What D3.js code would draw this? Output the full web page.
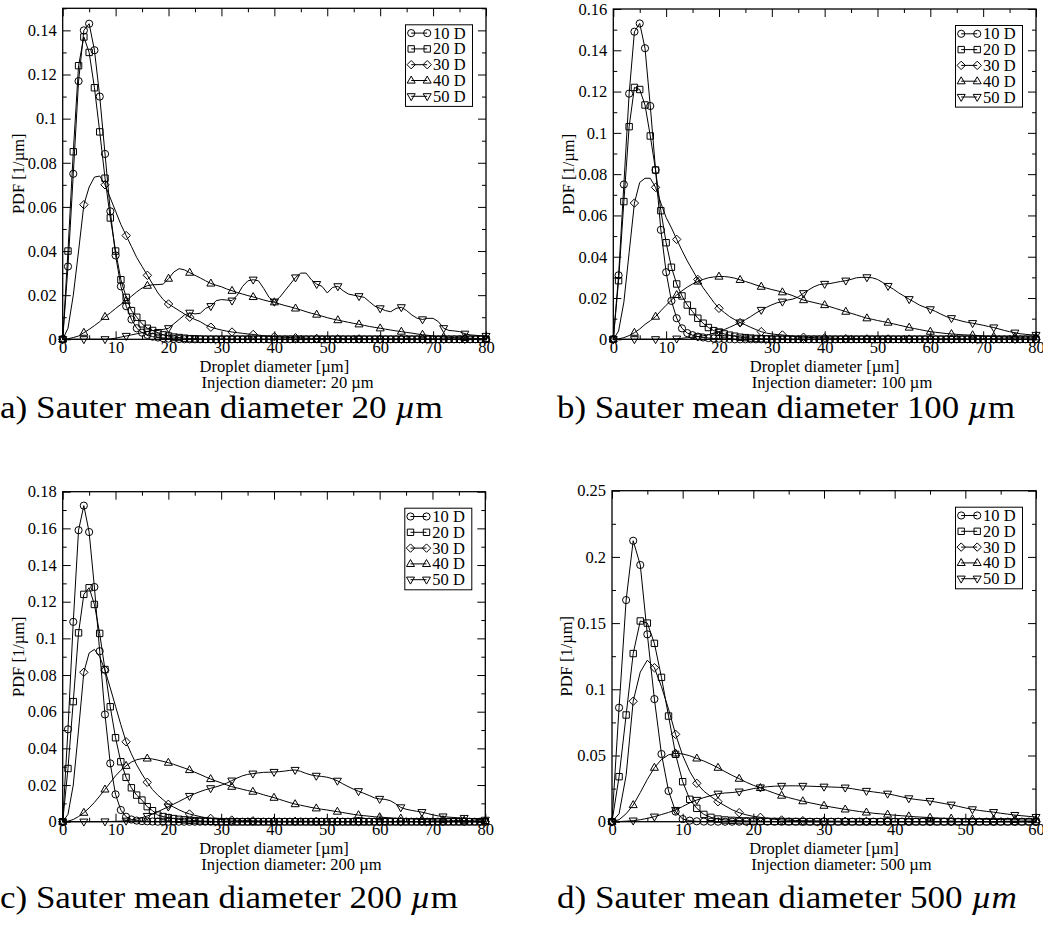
<!DOCTYPE html>
<html><head><meta charset="utf-8">
<script src="https://cdn.jsdelivr.net/npm/d3@7"></script>
<style>body{margin:0;background:#fff} svg{display:block}</style>
</head><body>
<svg id="chart" width="1043" height="925"></svg>
<script>
// ---------- shared categories ----------
const seriesNames = ["10 D", "20 D", "30 D", "40 D", "50 D"];
const symbolTypes = ["circle", "square", "diamond", "triUp", "triDown"];
const diam80 = d3.range(0, 81);   // droplet diameter grid [µm], panels a-c
const diam60 = d3.range(0, 61);   // droplet diameter grid [µm], panel d

const xTicks80 = [0, 10, 20, 30, 40, 50, 60, 70, 80];
const xLabels80 = ["0", "10", "20", "30", "40", "50", "60", "70", "80"];
const xTicks60 = [0, 10, 20, 30, 40, 50, 60];
const xLabels60 = ["0", "10", "20", "30", "40", "50", "60"];

const yTicksA = [0, 0.02, 0.04, 0.06, 0.08, 0.1, 0.12, 0.14];
const yLabelsA = ["0", "0.02", "0.04", "0.06", "0.08", "0.1", "0.12", "0.14"];
const yTicksB = [0, 0.02, 0.04, 0.06, 0.08, 0.1, 0.12, 0.14, 0.16];
const yLabelsB = ["0", "0.02", "0.04", "0.06", "0.08", "0.1", "0.12", "0.14", "0.16"];
const yTicksC = [0, 0.02, 0.04, 0.06, 0.08, 0.1, 0.12, 0.14, 0.16, 0.18];
const yLabelsC = ["0", "0.02", "0.04", "0.06", "0.08", "0.1", "0.12", "0.14", "0.16", "0.18"];
const yTicksD = [0, 0.05, 0.1, 0.15, 0.2, 0.25];
const yLabelsD = ["0", "0.05", "0.1", "0.15", "0.2", "0.25"];

// ---------- panel a : injection 20 µm ----------
const a10 = [
 0, 0.033, 0.075, 0.117, 0.140, 0.143, 0.131, 0.110, 0.084, 0.058,
 0.038, 0.024, 0.015, 0.009, 0.005, 0.003, 0.002, 0.0012, 0.0008, 0.0005,
 0.0003, 0.0002, 0.0001, 0, 0, 0, 0, 0, 0, 0,
 0, 0, 0, 0, 0, 0, 0, 0, 0, 0,
 0, 0, 0, 0, 0, 0, 0, 0, 0, 0,
 0, 0, 0, 0, 0, 0, 0, 0, 0, 0,
 0, 0, 0, 0, 0, 0, 0, 0, 0, 0,
 0, 0, 0, 0, 0, 0, 0, 0, 0, 0,
 0];
const a20 = [
 0, 0.040, 0.085, 0.124, 0.137, 0.130, 0.114, 0.094, 0.073, 0.055,
 0.040, 0.027, 0.019, 0.013, 0.010, 0.007, 0.005, 0.004, 0.003, 0.002,
 0.0015, 0.001, 0.0008, 0.0005, 0.0003, 0.0002, 0.0001, 0, 0, 0,
 0, 0, 0, 0, 0, 0, 0, 0, 0, 0,
 0, 0, 0, 0, 0, 0, 0, 0, 0, 0,
 0, 0, 0, 0, 0, 0, 0, 0, 0, 0,
 0, 0, 0, 0, 0, 0, 0, 0, 0, 0,
 0, 0, 0, 0, 0, 0, 0, 0, 0, 0,
 0];
const a30 = [
 0, 0.005, 0.020, 0.040, 0.061, 0.069, 0.0735, 0.074, 0.070, 0.064,
 0.058, 0.052, 0.047, 0.042, 0.037, 0.033, 0.029, 0.025, 0.021, 0.018,
 0.016, 0.0145, 0.013, 0.0115, 0.010, 0.009, 0.008, 0.0065, 0.0055, 0.0048,
 0.0042, 0.0037, 0.0033, 0.003, 0.0027, 0.0024, 0.0022, 0.0019, 0.0016, 0.0014,
 0.0012, 0.001, 0.0009, 0.0008, 0.0007, 0.0006, 0.0005, 0.0004, 0.0004, 0.0003,
 0.0003, 0.0002, 0.0002, 0.0002, 0.0002, 0.0002, 0.0002, 0.0002, 0.0002, 0.0002,
 0.0001, 0.0001, 0.0001, 0.0001, 0.0001, 0.0001, 0.0001, 0.0001, 0.0001, 0.0001,
 0.0001, 0.0001, 0.0001, 0.0001, 0.0001, 0.0001, 0.0001, 0.0001, 0.0001, 0.0001,
 0.0001];
const a40 = [
 0, 0.0002, 0.0008, 0.0015, 0.003, 0.0045, 0.0062, 0.008, 0.0102, 0.012,
 0.014, 0.0158, 0.0175, 0.0195, 0.0215, 0.0232, 0.0243, 0.0247, 0.0248, 0.025,
 0.0275, 0.0305, 0.032, 0.0315, 0.0302, 0.029, 0.0278, 0.0265, 0.0253, 0.0245,
 0.0238, 0.0228, 0.022, 0.0212, 0.0205, 0.0198, 0.0192, 0.0185, 0.0178, 0.0172,
 0.0168, 0.016, 0.0153, 0.0147, 0.014, 0.0133, 0.0125, 0.0118, 0.0112, 0.0105,
 0.0098, 0.0092, 0.0087, 0.0082, 0.0077, 0.0072, 0.0068, 0.0063, 0.0058, 0.0054,
 0.005, 0.0046, 0.0042, 0.0038, 0.0035, 0.0031, 0.0028, 0.0024, 0.0021, 0.0018,
 0.0015, 0.0012, 0.001, 0.0009, 0.0008, 0.0007, 0.0006, 0.0005, 0.0004, 0.0003,
 0.0002];
const a50 = [
 0, 0, 0, 0, 0, 0, 0, 0, 0, 0.0002,
 0.0005, 0.001, 0.0015, 0.002, 0.0025, 0.003, 0.0035, 0.004, 0.004, 0.0045,
 0.005, 0.007, 0.009, 0.011, 0.012, 0.0115, 0.0118, 0.014, 0.015, 0.0175,
 0.018, 0.0178, 0.0175, 0.020, 0.024, 0.0265, 0.027, 0.0265, 0.023, 0.019,
 0.017, 0.019, 0.022, 0.025, 0.028, 0.030, 0.030, 0.027, 0.025, 0.024,
 0.021, 0.0235, 0.024, 0.022, 0.0205, 0.020, 0.0195, 0.019, 0.017, 0.015,
 0.014, 0.013, 0.0125, 0.014, 0.0145, 0.013, 0.011, 0.0095, 0.009, 0.0095,
 0.0095, 0.008, 0.005, 0.004, 0.0038, 0.0035, 0.0025, 0.002, 0.0018, 0.0016,
 0.0015];

// ---------- panel b : injection 100 µm ----------
const b10 = [
 0, 0.031, 0.075, 0.119, 0.149, 0.153, 0.141, 0.113, 0.082, 0.053,
 0.0325, 0.0186, 0.0102, 0.0053, 0.003, 0.002, 0.0013, 0.0009, 0.0006, 0.0004,
 0.0003, 0.0002, 0.0001, 0, 0, 0, 0, 0, 0, 0,
 0, 0, 0, 0, 0, 0, 0, 0, 0, 0,
 0, 0, 0, 0, 0, 0, 0, 0, 0, 0,
 0, 0, 0, 0, 0, 0, 0, 0, 0, 0,
 0, 0, 0, 0, 0, 0, 0, 0, 0, 0,
 0, 0, 0, 0, 0, 0, 0, 0, 0, 0,
 0];
const b20 = [
 0, 0.0284, 0.0667, 0.103, 0.122, 0.121, 0.1135, 0.0985, 0.082, 0.0623,
 0.0468, 0.0349, 0.0268, 0.021, 0.0166, 0.0134, 0.0102, 0.0078, 0.0057, 0.0042,
 0.0034, 0.0026, 0.002, 0.0015, 0.001, 0.0008, 0.0006, 0.0004, 0.0003, 0.0002,
 0.0001, 0, 0, 0, 0, 0, 0, 0, 0, 0,
 0, 0, 0, 0, 0, 0, 0, 0, 0, 0,
 0, 0, 0, 0, 0, 0, 0, 0, 0, 0,
 0, 0, 0, 0, 0, 0, 0, 0, 0, 0,
 0, 0, 0, 0, 0, 0, 0, 0, 0, 0,
 0];
const b30 = [
 0, 0.004, 0.018, 0.042, 0.066, 0.076, 0.078, 0.078, 0.0736, 0.066,
 0.059, 0.054, 0.0484, 0.043, 0.038, 0.0335, 0.029, 0.025, 0.0215, 0.018,
 0.015, 0.013, 0.011, 0.0095, 0.0081, 0.007, 0.0058, 0.0047, 0.0037, 0.003,
 0.0026, 0.0023, 0.0021, 0.0018, 0.0015, 0.0012, 0.001, 0.0009, 0.0008, 0.0007,
 0.0007, 0.0006, 0.0005, 0.0004, 0.0003, 0.0003, 0.0003, 0.0002, 0.0002, 0.0002,
 0.0002, 0.0002, 0.0002, 0.0002, 0.0002, 0.0001, 0.0001, 0.0001, 0.0001, 0.0001,
 0.0001, 0.0001, 0.0001, 0.0001, 0.0001, 0.0001, 0.0001, 0.0001, 0.0001, 0.0001,
 0.0001, 0.0001, 0.0001, 0.0001, 0.0001, 0.0001, 0.0001, 0.0001, 0.0001, 0.0001,
 0.0001];
const b40 = [
 0, 0.0002, 0.0008, 0.0018, 0.0032, 0.005, 0.0072, 0.009, 0.011, 0.0138,
 0.0165, 0.019, 0.0215, 0.0235, 0.0253, 0.0268, 0.028, 0.029, 0.0298, 0.0302,
 0.0304, 0.0304, 0.0301, 0.0296, 0.0288, 0.028, 0.0272, 0.0263, 0.0255, 0.0248,
 0.0241, 0.0235, 0.0228, 0.022, 0.0211, 0.02, 0.019, 0.0184, 0.0178, 0.0172,
 0.0166, 0.0158, 0.015, 0.0142, 0.0134, 0.0126, 0.0118, 0.011, 0.0102, 0.0097,
 0.0091, 0.0086, 0.0081, 0.0075, 0.0069, 0.0063, 0.0057, 0.0052, 0.0047, 0.0042,
 0.0037, 0.0034, 0.0031, 0.0028, 0.0026, 0.0024, 0.0022, 0.0021, 0.002, 0.0018,
 0.0016, 0.0014, 0.0013, 0.0012, 0.0011, 0.001, 0.001, 0.001, 0.001, 0.001,
 0.001];
const b50 = [
 0, 0, 0, 0, 0, 0, 0, 0, 0, 0.0001,
 0.0001, 0.0002, 0.0003, 0.0005, 0.0008, 0.001, 0.0013, 0.0017, 0.0022, 0.003,
 0.0037, 0.0047, 0.0058, 0.007, 0.0081, 0.0095, 0.011, 0.0127, 0.0142, 0.0155,
 0.0167, 0.0177, 0.0182, 0.019, 0.0195, 0.0205, 0.0223, 0.024, 0.0255, 0.0265,
 0.0268, 0.027, 0.0275, 0.028, 0.0284, 0.029, 0.0298, 0.030, 0.030, 0.0298,
 0.029, 0.0275, 0.0258, 0.0243, 0.0225, 0.021, 0.0194, 0.018, 0.0165, 0.0155,
 0.0145, 0.0135, 0.0122, 0.011, 0.0102, 0.0095, 0.0088, 0.0082, 0.0078, 0.0073,
 0.0068, 0.0062, 0.0057, 0.005, 0.0043, 0.0037, 0.0032, 0.0027, 0.0024, 0.0022,
 0.0021];

// ---------- panel c : injection 200 µm ----------
const c10 = [
 0, 0.0504, 0.109, 0.159, 0.1724, 0.158, 0.128, 0.093, 0.0585, 0.0318,
 0.0149, 0.0064, 0.0027, 0.0012, 0.0006, 0.0003, 0.0002, 0.0001, 0, 0,
 0, 0, 0, 0, 0, 0, 0, 0, 0, 0,
 0, 0, 0, 0, 0, 0, 0, 0, 0, 0,
 0, 0, 0, 0, 0, 0, 0, 0, 0, 0,
 0, 0, 0, 0, 0, 0, 0, 0, 0, 0,
 0, 0, 0, 0, 0, 0, 0, 0, 0, 0,
 0, 0, 0, 0, 0, 0, 0, 0, 0, 0,
 0];
const c20 = [
 0, 0.029, 0.0655, 0.103, 0.124, 0.1276, 0.1185, 0.1027, 0.083, 0.0627,
 0.0458, 0.0327, 0.0242, 0.0185, 0.0145, 0.0118, 0.0082, 0.006, 0.0036, 0.0028,
 0.0022, 0.0017, 0.0013, 0.001, 0.0008, 0.0006, 0.0004, 0.0003, 0.0002, 0.0001,
 0, 0, 0, 0, 0, 0, 0, 0, 0, 0,
 0, 0, 0, 0, 0, 0, 0, 0, 0, 0,
 0, 0, 0, 0, 0, 0, 0, 0, 0, 0,
 0, 0, 0, 0, 0, 0, 0, 0, 0, 0,
 0, 0, 0, 0, 0, 0, 0, 0, 0, 0,
 0];
const c30 = [
 0, 0.004, 0.02, 0.05, 0.0815, 0.092, 0.094, 0.090, 0.0827, 0.073,
 0.063, 0.053, 0.0436, 0.037, 0.031, 0.026, 0.0215, 0.0175, 0.0145, 0.012,
 0.0095, 0.008, 0.0065, 0.0052, 0.0042, 0.0035, 0.0028, 0.0022, 0.0018, 0.0015,
 0.0012, 0.001, 0.0009, 0.0008, 0.0007, 0.0006, 0.0005, 0.0004, 0.0004, 0.0003,
 0.0003, 0.0002, 0.0002, 0.0002, 0.0002, 0.0002, 0.0002, 0.0002, 0.0002, 0.0002,
 0.0001, 0.0001, 0.0001, 0.0001, 0.0001, 0.0001, 0.0001, 0.0001, 0.0001, 0.0001,
 0.0001, 0.0001, 0.0001, 0.0001, 0.0001, 0.0001, 0.0001, 0.0001, 0.0001, 0.0001,
 0.0001, 0.0001, 0.0001, 0.0001, 0.0001, 0.0001, 0.0001, 0.0001, 0.0001, 0.0001,
 0.0001];
const c40 = [
 0, 0.0003, 0.0012, 0.0028, 0.0049, 0.0075, 0.0105, 0.014, 0.0176, 0.0213,
 0.025, 0.028, 0.0305, 0.0325, 0.0338, 0.0344, 0.0345, 0.0342, 0.0336, 0.0329,
 0.0322, 0.0313, 0.0303, 0.0293, 0.0282, 0.027, 0.0258, 0.0245, 0.0233, 0.0222,
 0.0212, 0.0201, 0.0191, 0.0184, 0.0177, 0.017, 0.0164, 0.0156, 0.0147, 0.0139,
 0.0131, 0.0122, 0.0113, 0.0104, 0.0096, 0.009, 0.0084, 0.0078, 0.0073, 0.0068,
 0.0064, 0.0059, 0.0055, 0.005, 0.0045, 0.004, 0.0036, 0.0033, 0.003, 0.0027,
 0.0025, 0.0023, 0.0021, 0.0019, 0.0018, 0.0016, 0.0015, 0.0013, 0.0012, 0.0011,
 0.001, 0.0009, 0.0009, 0.0008, 0.0007, 0.0007, 0.0006, 0.0006, 0.0005, 0.0005,
 0.0004];
const c50 = [
 0, 0, 0, 0, 0, 0, 0, 0, 0.0001, 0.0001,
 0.0002, 0.0003, 0.0005, 0.0009, 0.0015, 0.0022, 0.0031, 0.0042, 0.0055, 0.0068,
 0.0082, 0.0096, 0.011, 0.0125, 0.014, 0.0153, 0.0164, 0.0174, 0.0182, 0.019,
 0.0199, 0.021, 0.0224, 0.0238, 0.025, 0.0258, 0.0262, 0.0266, 0.0269, 0.027,
 0.0271, 0.0273, 0.0276, 0.028, 0.0282, 0.0275, 0.0264, 0.0255, 0.025, 0.0247,
 0.0243, 0.0235, 0.0223, 0.0207, 0.0192, 0.0178, 0.0166, 0.0155, 0.0143, 0.013,
 0.0124, 0.0122, 0.0115, 0.0098, 0.0078, 0.0068, 0.0062, 0.0057, 0.0052, 0.0045,
 0.0038, 0.0032, 0.0028, 0.0025, 0.0023, 0.0021, 0.002, 0.0017, 0.0014, 0.0012,
 0.001];

// ---------- panel d : injection 500 µm ----------
const d10 = [
 0, 0.0861, 0.1674, 0.2122, 0.1939, 0.1415, 0.0926, 0.0511, 0.0232, 0.0076,
 0.002, 0.0008, 0.0003, 0.0001, 0, 0, 0, 0, 0, 0,
 0, 0, 0, 0, 0, 0, 0, 0, 0, 0,
 0, 0, 0, 0, 0, 0, 0, 0, 0, 0,
 0, 0, 0, 0, 0, 0, 0, 0, 0, 0,
 0, 0, 0, 0, 0, 0, 0, 0, 0, 0,
 0];
const d20 = [
 0, 0.034, 0.0806, 0.127, 0.1516, 0.150, 0.1347, 0.109, 0.0798, 0.0509,
 0.0302, 0.0169, 0.0101, 0.0055, 0.0033, 0.002, 0.0013, 0.001, 0.0008, 0.0006,
 0.0005, 0.0004, 0.0003, 0.0002, 0.0002, 0.0001, 0.0001, 0, 0, 0,
 0, 0, 0, 0, 0, 0, 0, 0, 0, 0,
 0, 0, 0, 0, 0, 0, 0, 0, 0, 0,
 0, 0, 0, 0, 0, 0, 0, 0, 0, 0,
 0];
const d30 = [
 0, 0.006, 0.035, 0.091, 0.113, 0.122, 0.1163, 0.102, 0.085, 0.066,
 0.050, 0.038, 0.029, 0.023, 0.019, 0.0151, 0.012, 0.009, 0.0068, 0.0052,
 0.004, 0.0033, 0.0025, 0.0018, 0.0013, 0.0011, 0.0009, 0.0008, 0.0007, 0.0006,
 0.0005, 0.0004, 0.0004, 0.0003, 0.0003, 0.0003, 0.0002, 0.0002, 0.0002, 0.0002,
 0.0002, 0.0001, 0.0001, 0.0001, 0.0001, 0.0001, 0.0001, 0.0001, 0.0001, 0.0001,
 0.0001, 0.0001, 0.0001, 0.0001, 0.0001, 0.0001, 0.0001, 0.0001, 0.0001, 0.0001,
 0.0001];
const d40 = [
 0, 0.0015, 0.006, 0.0126, 0.022, 0.032, 0.0408, 0.047, 0.0505, 0.0516,
 0.0512, 0.0498, 0.0478, 0.0458, 0.0434, 0.0408, 0.0378, 0.035, 0.0325, 0.0298,
 0.0275, 0.0255, 0.0235, 0.0215, 0.0197, 0.0182, 0.0168, 0.0155, 0.0143, 0.0132,
 0.0121, 0.0111, 0.0102, 0.0093, 0.0085, 0.0077, 0.007, 0.0064, 0.0059, 0.0054,
 0.0049, 0.0045, 0.0041, 0.0037, 0.0034, 0.0031, 0.0028, 0.0026, 0.0024, 0.0022,
 0.0021, 0.002, 0.0019, 0.0018, 0.0017, 0.0016, 0.0015, 0.0014, 0.0013, 0.0013,
 0.0012];
const d50 = [
 0, 0.0001, 0.0004, 0.0008, 0.0015, 0.0025, 0.0038, 0.0054, 0.007, 0.0088,
 0.0115, 0.0142, 0.0164, 0.0182, 0.0197, 0.0211, 0.0217, 0.022, 0.0227, 0.0238,
 0.025, 0.0258, 0.0264, 0.0268, 0.027, 0.0271, 0.0271, 0.027, 0.0268, 0.0266,
 0.0264, 0.0262, 0.026, 0.0257, 0.0249, 0.024, 0.0232, 0.0225, 0.0218, 0.0211,
 0.02, 0.0188, 0.0176, 0.0168, 0.0162, 0.0156, 0.0147, 0.0137, 0.0128, 0.0116,
 0.0104, 0.0093, 0.0085, 0.0078, 0.0072, 0.0064, 0.0057, 0.005, 0.0045, 0.004,
 0.0035];

// ---------- texts ----------
const injectionLabels = ["Injection diameter: 20 µm", "Injection diameter: 100 µm",
                         "Injection diameter: 200 µm", "Injection diameter: 500 µm"];
const captionPrefix = ["a) Sauter mean diameter 20 ", "b) Sauter mean diameter 100 ",
                       "c) Sauter mean diameter 200 ", "d) Sauter mean diameter 500 "];

// ---------- layout (positions only) ----------
const FONT = "'Liberation Serif','Times New Roman',serif";
const panels = [
  {data: [a10, a20, a30, a40, a50], xs: diam80, xMax: 80, xTicks: xTicks80, xLabels: xLabels80,
   yMax: 0.15, yTicks: yTicksA, yLabels: yLabelsA, yMinorStep: 0.01, stride: [1, 1, 4, 4, 4],
   box: {l: 62.7, r: 486, t: 8.3, b: 339.3}, ylabX: 18.3, capX: 0, capY: 418, capLen: 443, capItalicAll: false},
  {data: [b10, b20, b30, b40, b50], xs: diam80, xMax: 80, xTicks: xTicks80, xLabels: xLabels80,
   yMax: 0.16, yTicks: yTicksB, yLabels: yLabelsB, yMinorStep: 0.01, stride: [1, 1, 4, 4, 4],
   box: {l: 613.3, r: 1036, t: 9, b: 339.3}, ylabX: 568, capX: 557, capY: 418, capLen: 458, capItalicAll: false},
  {data: [c10, c20, c30, c40, c50], xs: diam80, xMax: 80, xTicks: xTicks80, xLabels: xLabels80,
   yMax: 0.18, yTicks: yTicksC, yLabels: yLabelsC, yMinorStep: 0.01, stride: [1, 1, 4, 4, 4],
   box: {l: 62.7, r: 485.3, t: 491.7, b: 821.7}, ylabX: 18.3, capX: 0, capY: 908, capLen: 458, capItalicAll: false},
  {data: [d10, d20, d30, d40, d50], xs: diam60, xMax: 60, xTicks: xTicks60, xLabels: xLabels60,
   yMax: 0.25, yTicks: yTicksD, yLabels: yLabelsD, yMinorStep: 0.025, stride: [1, 1, 3, 3, 3],
   box: {l: 612, r: 1036, t: 490.7, b: 821.7}, ylabX: 566.7, capX: 557, capY: 908, capLen: 460, capItalicAll: true}
];

function symbolPath(type) {
  switch (type) {
    case "circle": return "M-3.6,0a3.6,3.6 0 1,0 7.2,0a3.6,3.6 0 1,0 -7.2,0Z";
    case "square": return "M-3.2,-3.2h6.4v6.4h-6.4Z";
    case "diamond": return "M0,-4.2L4.2,0L0,4.2L-4.2,0Z";
    case "triUp": return "M0,-4.4L4,2.6L-4,2.6Z";
    case "triDown": return "M0,4.4L4,-2.6L-4,-2.6Z";
  }
}

const svg = d3.select("#chart");
svg.append("rect").attr("width", 1043).attr("height", 925).attr("fill", "#fff");

panels.forEach((p, pi) => {
  const g = svg.append("g");
  const x = d3.scaleLinear().domain([0, p.xMax]).range([p.box.l, p.box.r]);
  const y = d3.scaleLinear().domain([0, p.yMax]).range([p.box.b, p.box.t]);
  const xMinor = d3.range(0, p.xMax / 10).map(i => i * 10 + 5);
  const nMinor = Math.round(p.yMax / (2 * p.yMinorStep));
  const yMinor = d3.range(0, nMinor).map(i => (2 * i + 1) * p.yMinorStep);

  const styleAxis = sel => {
    sel.select(".domain").remove();
    sel.attr("font-family", FONT).attr("font-size", 16.5);
    sel.selectAll("line").attr("stroke", "#000").attr("stroke-width", 1);
    sel.selectAll("text").attr("fill", "#000");
  };

  // bottom
  g.append("g").attr("transform", `translate(0,${p.box.b})`)
    .call(d3.axisBottom(x).tickValues(p.xTicks).tickFormat((d, i) => p.xLabels[i])
      .tickSizeInner(-8).tickSizeOuter(0).tickPadding(2)).call(styleAxis);
  g.append("g").attr("transform", `translate(0,${p.box.b})`)
    .call(d3.axisBottom(x).tickValues(xMinor).tickFormat("").tickSizeInner(-4).tickSizeOuter(0)).call(styleAxis);
  // top
  g.append("g").attr("transform", `translate(0,${p.box.t})`)
    .call(d3.axisTop(x).tickValues(p.xTicks).tickFormat("").tickSizeInner(-8).tickSizeOuter(0)).call(styleAxis);
  g.append("g").attr("transform", `translate(0,${p.box.t})`)
    .call(d3.axisTop(x).tickValues(xMinor).tickFormat("").tickSizeInner(-4).tickSizeOuter(0)).call(styleAxis);
  // left
  g.append("g").attr("transform", `translate(${p.box.l},0)`)
    .call(d3.axisLeft(y).tickValues(p.yTicks).tickFormat((d, i) => p.yLabels[i])
      .tickSizeInner(-8).tickSizeOuter(0).tickPadding(6)).call(styleAxis);
  g.append("g").attr("transform", `translate(${p.box.l},0)`)
    .call(d3.axisLeft(y).tickValues(yMinor).tickFormat("").tickSizeInner(-4).tickSizeOuter(0)).call(styleAxis);
  // right
  g.append("g").attr("transform", `translate(${p.box.r},0)`)
    .call(d3.axisRight(y).tickValues(p.yTicks).tickFormat("").tickSizeInner(-8).tickSizeOuter(0)).call(styleAxis);
  g.append("g").attr("transform", `translate(${p.box.r},0)`)
    .call(d3.axisRight(y).tickValues(yMinor).tickFormat("").tickSizeInner(-4).tickSizeOuter(0)).call(styleAxis);

  // series
  p.data.forEach((vals, si) => {
    const line = d3.line().x((d, j) => x(p.xs[j])).y(d => y(d));
    g.append("path").datum(vals).attr("d", line)
      .attr("fill", "none").attr("stroke", "#000").attr("stroke-width", 1);
    const pts = vals.map((v, j) => ({x: p.xs[j], y: v, j})).filter(d => d.j % p.stride[si] === 0);
    g.append("g").selectAll("path").data(pts).join("path")
      .attr("transform", d => `translate(${x(d.x)},${y(d.y)})`)
      .attr("d", symbolPath(symbolTypes[si]))
      .attr("fill", "none").attr("stroke", "#000").attr("stroke-width", 1);
  });

  // frame
  g.append("rect").attr("x", p.box.l).attr("y", p.box.t)
    .attr("width", p.box.r - p.box.l).attr("height", p.box.b - p.box.t)
    .attr("fill", "none").attr("stroke", "#000").attr("stroke-width", 1.3);

  // legend
  const lgW = 67, lgH = 81.6;
  const lgX = p.box.r - 13.5 - lgW, lgY = p.box.t + 16.5;
  const lg = g.append("g").attr("transform", `translate(${lgX},${lgY})`);
  lg.append("rect").attr("width", lgW).attr("height", lgH)
    .attr("fill", "#fff").attr("stroke", "#000").attr("stroke-width", 1);
  seriesNames.forEach((name, si) => {
    const ry = 8.3 + si * 15.8;
    lg.append("line").attr("x1", 5.7).attr("x2", 21.7).attr("y1", ry).attr("y2", ry)
      .attr("stroke", "#000").attr("stroke-width", 1);
    [5.7, 21.7].forEach(sx => lg.append("path").attr("transform", `translate(${sx},${ry})`)
      .attr("d", symbolPath(symbolTypes[si])).attr("fill", "none").attr("stroke", "#000"));
    lg.append("text").attr("x", 27.5).attr("y", ry + 5.6).text(name)
      .attr("font-family", FONT).attr("font-size", 16.5).attr("fill", "#000");
  });

  // axis titles
  const cx = (p.box.l + p.box.r) / 2;
  const xt = g.append("text").attr("x", cx).attr("y", p.box.b + 32.7).attr("text-anchor", "middle")
    .attr("font-family", FONT).attr("font-size", 16.5).text("Droplet diameter [µm]");
  const w = xt.node().getComputedTextLength();
  g.append("text").attr("x", cx - w / 2 + 2).attr("y", p.box.b + 48.7)
    .attr("font-family", FONT).attr("font-size", 16.5).text(injectionLabels[pi]);
  g.append("text").attr("transform", `translate(${p.ylabX + 5.5},${(p.box.t + p.box.b) / 2}) rotate(-90)`)
    .attr("text-anchor", "middle").attr("font-family", FONT).attr("font-size", 16.5).text("PDF [1/µm]");

  // caption
  const cap = svg.append("text").attr("x", p.capX).attr("y", p.capY)
    .attr("font-family", FONT).attr("font-size", 31)
    .attr("textLength", p.capLen).attr("lengthAdjust", "spacingAndGlyphs");
  cap.append("tspan").text(captionPrefix[pi]);
  cap.append("tspan").attr("font-style", "italic").text("µ");
  cap.append("tspan").attr("font-style", p.capItalicAll ? "italic" : "normal").text("m");
});
</script>
</body></html>
